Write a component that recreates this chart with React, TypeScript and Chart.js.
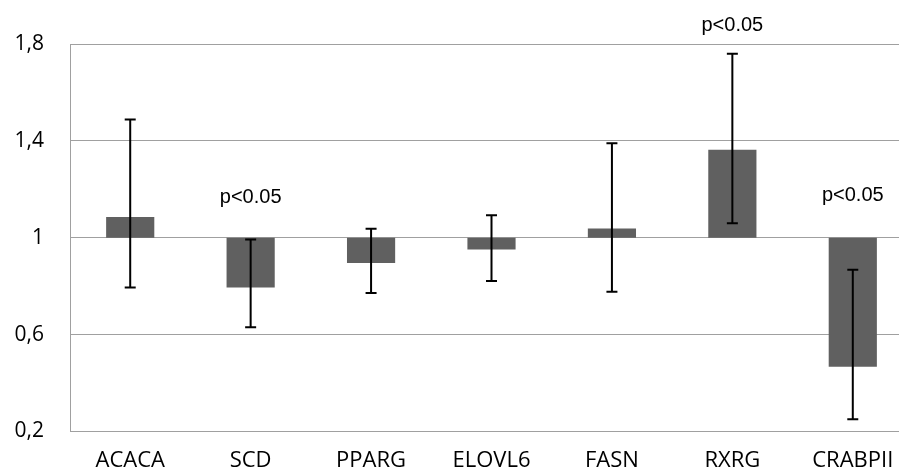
import React, { useEffect, useRef } from "react";
import { Chart, registerables } from "chart.js";

Chart.register(...registerables);

const categories = ["ACACA", "SCD", "PPARG", "ELOVL6", "FASN", "RXRG", "CRABPII"];
const baseline = 1;
const values = [1.085, 0.794, 0.896, 0.951, 1.038, 1.363, 0.467];
const errLow = [0.794, 0.63, 0.772, 0.821, 0.777, 1.06, 0.25];
const errHigh = [1.488, 0.993, 1.037, 1.093, 1.39, 1.76, 0.868];
const noteText = ["", "p<0.05", "", "", "", "p<0.05", "p<0.05"];
const noteY = [null, 1.168, null, null, null, 1.878, 1.176];
const yMin = 0.2;
const yMax = 1.8;
const yStep = 0.4;

const errorBarPlugin = {
  id: "errorBars",
  afterDatasetsDraw(chart: any) {
    const ctx = chart.ctx;
    const meta = chart.getDatasetMeta(0);
    const ys = chart.scales.y;
    ctx.save();
    ctx.strokeStyle = "#000000";
    ctx.lineWidth = 2;
    meta.data.forEach((bar: any, i: number) => {
      const x = bar.x;
      const yl = ys.getPixelForValue(errLow[i]);
      const yh = ys.getPixelForValue(errHigh[i]);
      ctx.beginPath();
      ctx.moveTo(x, yl);
      ctx.lineTo(x, yh);
      ctx.moveTo(x - 5.5, yl);
      ctx.lineTo(x + 5.5, yl);
      ctx.moveTo(x - 5.5, yh);
      ctx.lineTo(x + 5.5, yh);
      ctx.stroke();
    });
    ctx.fillStyle = "#000000";
    ctx.font = "20px 'Liberation Sans', Arial, sans-serif";
    ctx.textAlign = "center";
    ctx.textBaseline = "middle";
    meta.data.forEach((bar: any, i: number) => {
      if (noteText[i] && noteY[i] != null) {
        ctx.fillText(noteText[i], bar.x, ys.getPixelForValue(noteY[i] as number));
      }
    });
    ctx.restore();
  },
};

export default function App() {
  const ref = useRef<HTMLCanvasElement>(null);
  useEffect(() => {
    document.body.style.margin = "0";
    const chart = new Chart(ref.current as HTMLCanvasElement, {
      type: "bar",
      data: {
        labels: categories,
        datasets: [
          {
            data: values.map((v) => [baseline, v]) as any,
            backgroundColor: "#606060",
            borderWidth: 0,
            barPercentage: 0.4,
            categoryPercentage: 1,
          },
        ],
      },
      options: {
        responsive: false,
        animation: false,
        layout: { padding: { top: 44, left: 0, right: 0, bottom: 0 } },
        plugins: { legend: { display: false }, tooltip: { enabled: false } },
        scales: {
          x: {
            grid: { display: false, drawTicks: false },
            border: { display: false },
            ticks: {
              color: "#000000",
              padding: 16,
              font: { family: "'Open Sans', sans-serif", size: 22 },
              maxRotation: 0,
              autoSkip: false,
            },
            afterFit: (s: any) => {
              s.height = 36;
            },
          },
          y: {
            min: yMin,
            max: yMax,
            grid: { color: "#a0a0a0", lineWidth: 1, drawTicks: false },
            border: { display: true, color: "#a0a0a0", width: 1 },
            ticks: {
              stepSize: yStep,
              color: "#000000",
              padding: 26,
              font: { family: "'Open Sans', sans-serif", size: 21 },
              callback: (v: any) => String(Math.round(Number(v) * 10) / 10).replace(".", ","),
            },
            afterFit: (s: any) => {
              s.width = 70;
            },
          },
        },
      },
      plugins: [errorBarPlugin],
    });
    return () => chart.destroy();
  }, []);
  return (
    <div style={{ width: 899, height: 470, overflow: "hidden", background: "#ffffff" }}>
      <canvas ref={ref} width={913} height={470} style={{ display: "block" }} />
    </div>
  );
}
